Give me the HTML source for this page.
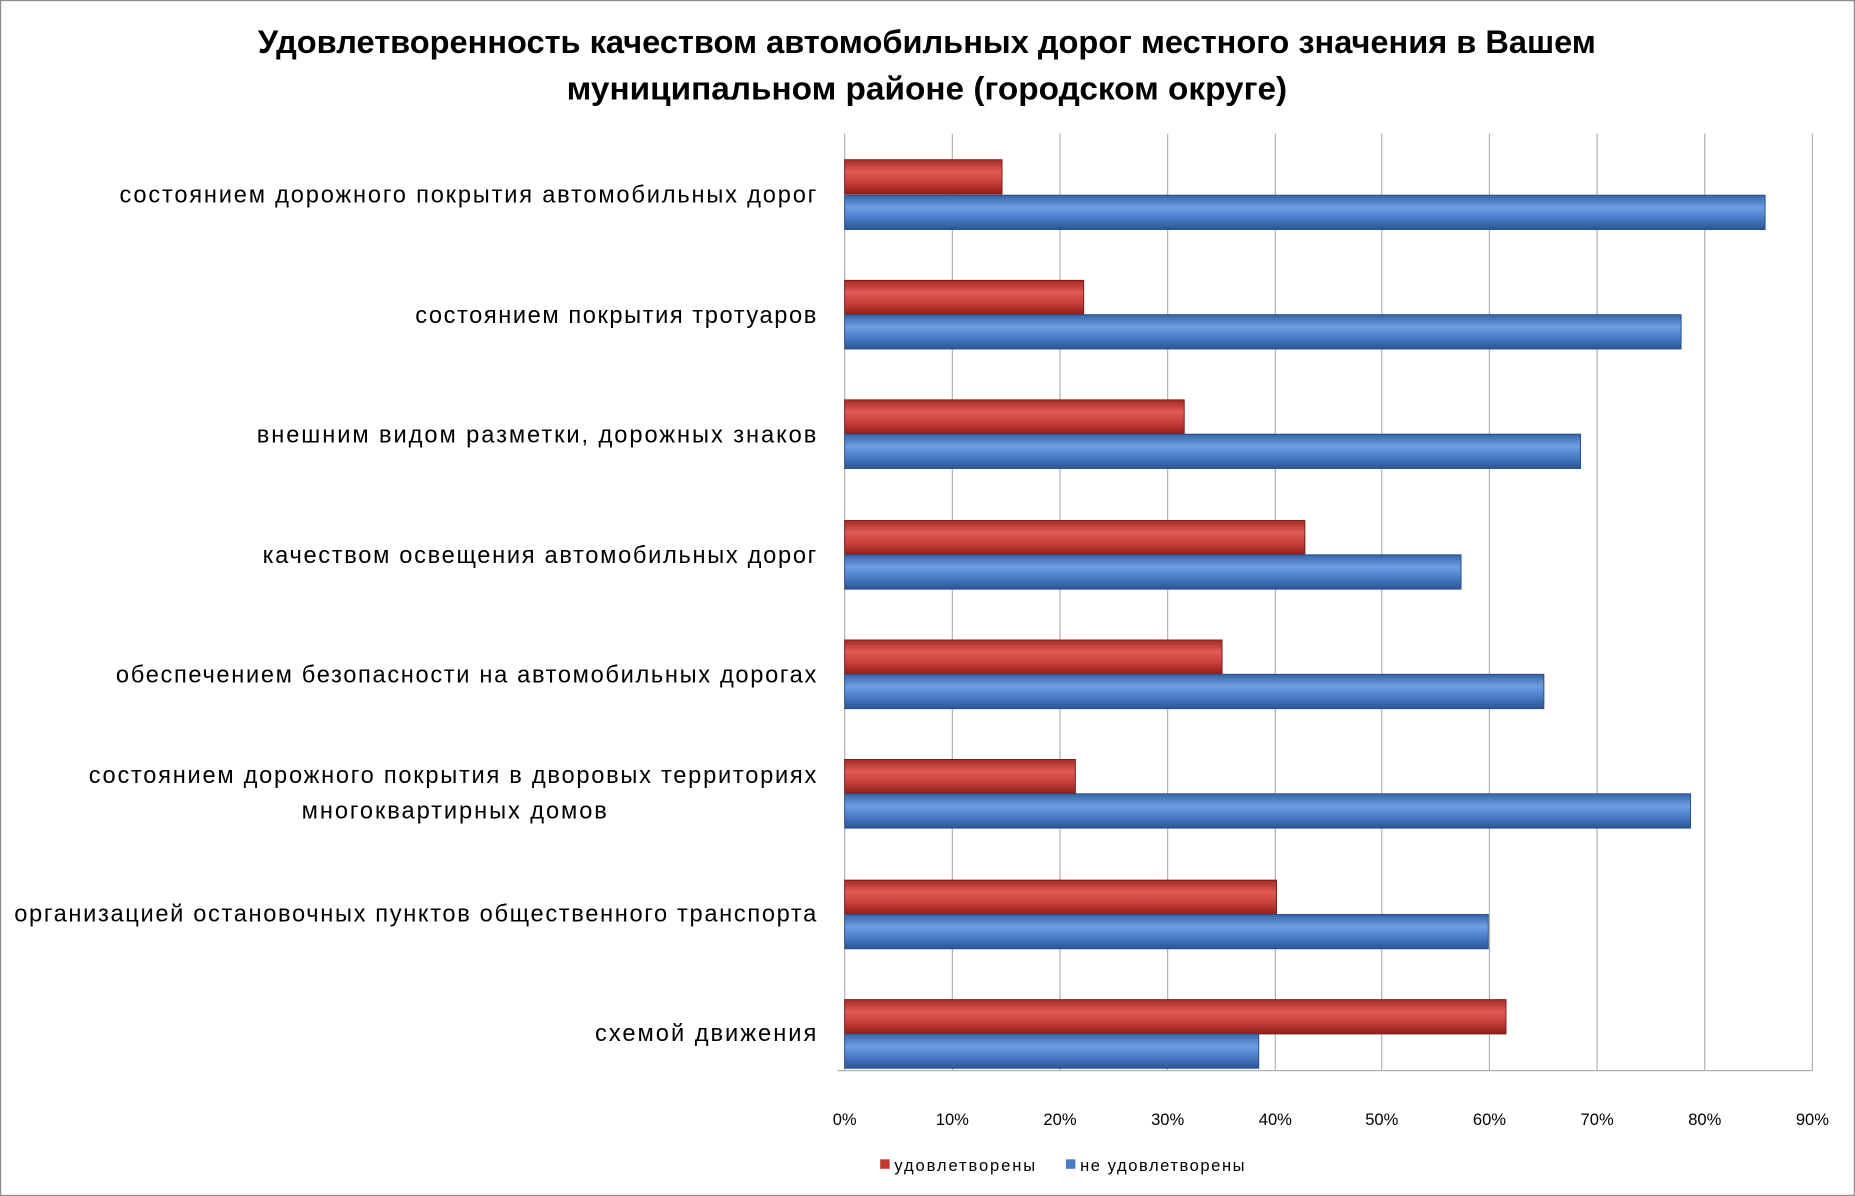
<!DOCTYPE html>
<html><head><meta charset="utf-8"><style>html,body{margin:0;padding:0;background:#fff}svg{display:block}</style></head>
<body>
<svg width="1855" height="1196" viewBox="0 0 1568 1011" preserveAspectRatio="none" xmlns="http://www.w3.org/2000/svg" font-family="Liberation Sans, DejaVu Sans, sans-serif">
<defs>
<linearGradient id="r" x1="0" y1="0" x2="0" y2="1">
<stop offset="0" stop-color="#a52a26"/><stop offset="0.35" stop-color="#e05a55"/><stop offset="0.6" stop-color="#d04440"/><stop offset="1" stop-color="#8e1f1c"/></linearGradient>
<linearGradient id="b" x1="0" y1="0" x2="0" y2="1">
<stop offset="0" stop-color="#3465a8"/><stop offset="0.35" stop-color="#6f9ee0"/><stop offset="0.6" stop-color="#4f84cf"/><stop offset="1" stop-color="#2b5595"/></linearGradient>
</defs>
<rect x="0.5" y="0.5" width="1567" height="1010" fill="#fff" stroke="#8c8c8c"/>
<text x="218" y="45" font-size="27" font-weight="bold" textLength="1131" lengthAdjust="spacingAndGlyphs">Удовлетворенность качеством автомобильных дорог местного значения в Вашем</text>
<text x="479" y="84" font-size="27" font-weight="bold" textLength="609" lengthAdjust="spacingAndGlyphs">муниципальном районе (городском округе)</text>
<g stroke="#b0b0b0" stroke-width="1">
<line x1="714" y1="113" x2="714" y2="905"/><line x1="805" y1="113" x2="805" y2="905"/><line x1="896" y1="113" x2="896" y2="905"/><line x1="987" y1="113" x2="987" y2="905"/><line x1="1078" y1="113" x2="1078" y2="905"/><line x1="1168" y1="113" x2="1168" y2="905"/><line x1="1259" y1="113" x2="1259" y2="905"/><line x1="1350" y1="113" x2="1350" y2="905"/><line x1="1441" y1="113" x2="1441" y2="905"/><line x1="1532" y1="113" x2="1532" y2="905"/>
<line x1="708" y1="905" x2="1532" y2="905"/>
</g>
<g stroke-width="0.8">
<rect x="714" y="135" width="133" height="29" fill="url(#r)" stroke="#7a1a18"/><rect x="714" y="165" width="778" height="29" fill="url(#b)" stroke="#264d85"/>
<rect x="714" y="237" width="202" height="29" fill="url(#r)" stroke="#7a1a18"/><rect x="714" y="266" width="707" height="29" fill="url(#b)" stroke="#264d85"/>
<rect x="714" y="338" width="287" height="29" fill="url(#r)" stroke="#7a1a18"/><rect x="714" y="367" width="622" height="29" fill="url(#b)" stroke="#264d85"/>
<rect x="714" y="440" width="389" height="29" fill="url(#r)" stroke="#7a1a18"/><rect x="714" y="469" width="521" height="29" fill="url(#b)" stroke="#264d85"/>
<rect x="714" y="541" width="319" height="29" fill="url(#r)" stroke="#7a1a18"/><rect x="714" y="570" width="591" height="29" fill="url(#b)" stroke="#264d85"/>
<rect x="714" y="642" width="195" height="29" fill="url(#r)" stroke="#7a1a18"/><rect x="714" y="671" width="715" height="29" fill="url(#b)" stroke="#264d85"/>
<rect x="714" y="744" width="365" height="29" fill="url(#r)" stroke="#7a1a18"/><rect x="714" y="773" width="544" height="29" fill="url(#b)" stroke="#264d85"/>
<rect x="714" y="845" width="559" height="29" fill="url(#r)" stroke="#7a1a18"/><rect x="714" y="874" width="350" height="29" fill="url(#b)" stroke="#264d85"/>
</g>
<g font-size="20" fill="#000" lengthAdjust="spacing">
<text x="101" y="171" textLength="589">состоянием дорожного покрытия автомобильных дорог</text>
<text x="351" y="273" textLength="339">состоянием покрытия тротуаров</text>
<text x="217" y="374" textLength="473">внешним видом разметки, дорожных знаков</text>
<text x="222" y="476" textLength="468">качеством освещения автомобильных дорог</text>
<text x="98" y="577" textLength="592">обеспечением безопасности на автомобильных дорогах</text>
<text x="75" y="662" textLength="615">состоянием дорожного покрытия в дворовых территориях</text>
<text x="255" y="692" textLength="258">многоквартирных домов</text>
<text x="12" y="779" textLength="678">организацией остановочных пунктов общественного транспорта</text>
<text x="503" y="880" textLength="187">схемой движения</text>
</g>
<g font-size="14" text-anchor="middle">
<text x="714" y="951">0%</text><text x="805" y="951">10%</text><text x="896" y="951">20%</text><text x="987" y="951">30%</text><text x="1078" y="951">40%</text><text x="1168" y="951">50%</text><text x="1259" y="951">60%</text><text x="1350" y="951">70%</text><text x="1441" y="951">80%</text><text x="1532" y="951">90%</text>
</g>
<rect x="744" y="980" width="8" height="8" fill="#c0392b"/>
<text x="756" y="990" font-size="14" textLength="119">удовлетворены</text>
<rect x="901" y="980" width="8" height="8" fill="#4a7cc4"/>
<text x="913" y="990" font-size="14" textLength="139">не удовлетворены</text>
</svg>
</body></html>
